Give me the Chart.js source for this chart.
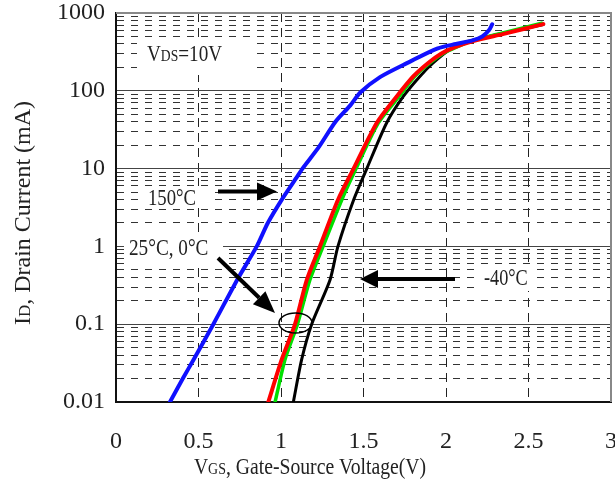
<!DOCTYPE html>
<html>
<head>
<meta charset="utf-8">
<script src="https://cdn.jsdelivr.net/npm/chart.js@4.4.1/dist/chart.umd.min.js"></script>
<style>
  html, body { margin: 0; padding: 0; background: #fff; }
  #wrap { width: 615px; height: 486px; }
</style>
</head>
<body>
<div id="wrap"><canvas id="c"></canvas></div>
<script>
// VGS (V) vs ID (mA), VDS = 10V
var vgs150 = [0.327, 0.405, 0.47, 0.59, 0.74, 0.853, 0.92, 1.005, 1.10, 1.13, 1.23, 1.33, 1.42, 1.48, 1.60, 1.76, 1.95, 2.06, 2.16, 2.22, 2.26, 2.28];
var id150  = [0.01, 0.02, 0.035, 0.1, 0.39, 1, 2, 4, 8, 10, 19, 40, 65, 95, 150, 225, 350, 400, 445, 500, 600, 715];

var vgs25 = [0.923, 1.004, 1.085, 1.156, 1.236, 1.345, 1.44, 1.58, 1.70, 1.80, 1.89, 1.97, 2.05, 2.17, 2.35, 2.59];
var id25  = [0.01, 0.035, 0.1, 0.37, 1, 3.95, 10, 38.6, 84, 152, 226, 300, 362, 440, 540, 720];

var vgs0 = [0.964, 1.024, 1.10, 1.175, 1.255, 1.368, 1.455, 1.59, 1.715, 1.81, 1.90, 1.98, 2.06, 2.17, 2.35, 2.58];
var id0  = [0.01, 0.035, 0.1, 0.37, 1, 3.95, 10, 38.6, 84, 152, 226, 300, 362, 448, 560, 740];

var vgsM40 = [1.075, 1.125, 1.186, 1.297, 1.345, 1.44, 1.52, 1.64, 1.74, 1.84, 1.92, 2.02, 2.13, 2.59];
var idM40  = [0.01, 0.035, 0.1, 0.37, 1, 3.95, 10, 38.6, 84, 152, 226, 334, 430, 710];

var yTickValues = [0.01, 0.1, 1, 10, 100, 1000];
var yTickLabels = ['0.01', '0.1', '1', '10', '100', '1000'];
var xTickLabels = ['0', '0.5', '1', '1.5', '2', '2.5', '3'];

var SERIF = '"Liberation Serif", "Times New Roman", serif';

function pts(xs, ys) {
  return xs.map(function (x, i) { return { x: x, y: ys[i] }; });
}

function mantissa(v) {
  var e = Math.floor(Math.log10(v) + 1e-9);
  return v / Math.pow(10, e);
}
function isDecade(v) {
  return Math.abs(mantissa(v) - 1) < 1e-6;
}
function isMinor(v) {
  var m = mantissa(v);
  return !isDecade(v) && Math.abs(m - Math.round(m)) < 1e-6;
}

// text made of runs (big / small letters on one baseline), narrowed like the source font
function runsWidth(ctx, runs) {
  var w = 0;
  runs.forEach(function (r) {
    ctx.font = r[1] + 'px ' + SERIF;
    w += ctx.measureText(r[0]).width;
  });
  return w;
}
function drawRuns(ctx, x, y, runs, sx, align) {
  ctx.save();
  ctx.translate(x, y);
  ctx.scale(sx, 1);
  ctx.fillStyle = '#222';
  ctx.textBaseline = 'alphabetic';
  ctx.textAlign = 'left';
  var cx = align === 'center' ? -runsWidth(ctx, runs) / 2 : 0;
  runs.forEach(function (r) {
    ctx.font = r[1] + 'px ' + SERIF;
    ctx.fillText(r[0], cx, 0);
    cx += ctx.measureText(r[0]).width;
  });
  ctx.restore();
}
function blank(ctx, x1, y1, x2, y2) {
  ctx.save();
  ctx.fillStyle = '#fff';
  ctx.fillRect(x1, y1, x2 - x1, y2 - y1);
  ctx.restore();
}
function arrow(ctx, x1, y1, x2, y2, headLen, headHalf) {
  var dx = x2 - x1, dy = y2 - y1, len = Math.sqrt(dx * dx + dy * dy);
  var ux = dx / len, uy = dy / len;
  var bx = x2 - ux * headLen, by = y2 - uy * headLen;
  ctx.save();
  ctx.strokeStyle = '#000';
  ctx.fillStyle = '#000';
  ctx.lineWidth = 4;
  ctx.beginPath();
  ctx.moveTo(x1, y1);
  ctx.lineTo(bx, by);
  ctx.stroke();
  ctx.beginPath();
  ctx.moveTo(x2, y2);
  ctx.lineTo(bx - uy * headHalf, by + ux * headHalf);
  ctx.lineTo(bx + uy * headHalf, by - ux * headHalf);
  ctx.closePath();
  ctx.fill();
  ctx.restore();
}

var decor = {
  id: 'decor',
  beforeDatasetsDraw: function (chart) {
    var ctx = chart.ctx;
    // label boxes clear the grid behind the notes
    blank(ctx, 137, 40, 253, 75);
    blank(ctx, 140, 186, 208, 207);
    blank(ctx, 124, 238, 223, 264);
    blank(ctx, 479, 264, 537, 291);
  },
  afterDraw: function (chart) {
    var ctx = chart.ctx, a = chart.chartArea;
    // frame: gray top/right
    ctx.save();
    ctx.strokeStyle = '#888';
    ctx.lineWidth = 2;
    ctx.beginPath();
    ctx.moveTo(a.left, a.top);
    ctx.lineTo(a.right, a.top);
    ctx.lineTo(a.right, a.bottom);
    ctx.stroke();
    ctx.restore();

    drawRuns(ctx, 147, 61, [['V', 24], ['DS', 17], ['=10V', 24]], 0.8);
    drawRuns(ctx, 148, 205, [['150\u00B0C', 24]], 0.78);
    drawRuns(ctx, 129, 255, [['25\u00B0C, 0\u00B0C', 24]], 0.8);
    drawRuns(ctx, 484, 285, [['-40\u00B0C', 24]], 0.76);

    arrow(ctx, 218, 191.5, 277, 191.5, 20, 9);
    arrow(ctx, 218, 258, 275, 313, 22, 9);
    arrow(ctx, 455, 279, 360, 279, 18, 9);

    ctx.save();
    ctx.strokeStyle = '#000';
    ctx.lineWidth = 1.5;
    ctx.beginPath();
    ctx.ellipse(295.5, 323, 16.5, 10, 0, 0, Math.PI * 2);
    ctx.stroke();
    ctx.restore();

    // axis titles
    drawRuns(ctx, 310, 474, [['V', 24], ['GS', 17], [', Gate-Source Voltage(V)', 24]], 0.82, 'center');
    ctx.save();
    ctx.translate(30, 213);
    ctx.rotate(-Math.PI / 2);
    drawRuns(ctx, 0, 0, [['I', 24], ['D', 17], [', Drain Current (mA)', 24]], 1.0, 'center');
    ctx.restore();
  }
};

function line(label, xs, ys, color, w) {
  return {
    label: label,
    data: pts(xs, ys),
    showLine: true,
    borderColor: color,
    backgroundColor: color,
    borderWidth: w,
    pointRadius: 0,
    tension: 0.25,
    borderCapStyle: 'round',
    borderJoinStyle: 'round',
    fill: false
  };
}

new Chart(document.getElementById('c'), {
  type: 'scatter',
  data: {
    datasets: [
      line('150\u00B0C', vgs150, id150, '#1010ff', 4),
      line('25\u00B0C', vgs25, id25, '#ff0000', 4),
      line('0\u00B0C', vgs0, id0, '#00e000', 3.5),
      line('-40\u00B0C', vgsM40, idM40, '#000000', 3)
    ]
  },
  options: {
    responsive: true,
    maintainAspectRatio: false,
    animation: false,
    layout: { padding: { top: 13, right: 4, left: 0, bottom: 0 } },
    plugins: { legend: { display: false }, tooltip: { enabled: false } },
    scales: {
      x: {
        type: 'linear',
        min: 0, max: 3,
        ticks: {
          stepSize: 0.5,
          padding: 25,
          color: '#222',
          font: { family: SERIF, size: 24 },
          callback: function (v, i) { return xTickLabels[i] !== undefined ? xTickLabels[i] : ''; }
        },
        grid: {
          drawTicks: false,
          lineWidth: 1,
          color: function (c) {
            if (!c.tick) return 'rgba(0,0,0,0)';
            return (c.tick.value <= 0 || c.tick.value >= 3) ? 'rgba(0,0,0,0)' : '#222';
          }
        },
        border: { color: '#111', width: 2, dash: [9, 6] },
        afterFit: function (s) { s.height = 84; s.paddingLeft = 0; s.paddingRight = 0; }
      },
      y: {
        type: 'logarithmic',
        position: 'left',
        min: 0.01, max: 1000,
        ticks: {
          autoSkip: false,
          padding: 11,
          color: '#222',
          font: { family: SERIF, size: 24 },
          callback: function (v) {
            for (var i = 0; i < yTickValues.length; i++) {
              if (Math.abs(v - yTickValues[i]) / yTickValues[i] < 1e-6) return yTickLabels[i];
            }
            return '';
          }
        },
        grid: {
          drawTicks: false,
          lineWidth: 1,
          color: function (c) {
            if (!c.tick) return 'rgba(0,0,0,0)';
            return isMinor(c.tick.value) ? '#333' : 'rgba(0,0,0,0)';
          }
        },
        border: { color: '#111', width: 2, dash: [7, 7] },
        afterFit: function (s) { s.width = 116; s.paddingTop = 0; s.paddingBottom = 0; }
      },
      yMajor: {
        type: 'logarithmic',
        position: 'left',
        min: 0.01, max: 1000,
        ticks: { display: false, autoSkip: false },
        grid: {
          drawTicks: false,
          lineWidth: 1,
          color: function (c) {
            if (!c.tick) return 'rgba(0,0,0,0)';
            var v = c.tick.value;
            return (isDecade(v) && v > 0.011 && v < 999) ? '#444' : 'rgba(0,0,0,0)';
          }
        },
        border: { display: false },
        afterFit: function (s) { s.width = 0; s.paddingTop = 0; s.paddingBottom = 0; }
      }
    }
  },
  plugins: [decor]
});
</script>
</body>
</html>
